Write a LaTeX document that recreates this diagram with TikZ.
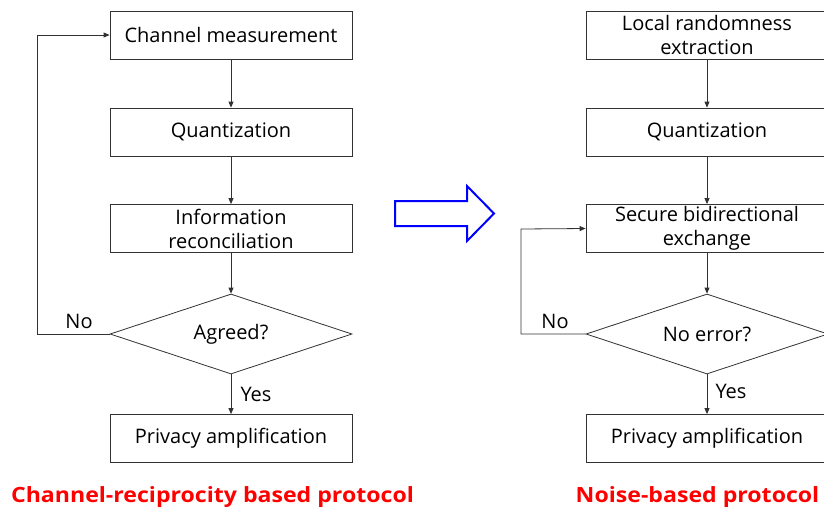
\documentclass[tikz,border=0pt]{standalone}
\usepackage{fontspec}
\setmainfont{Open Sans}
\newfontfamily\titlefont[FakeStretch=1.1]{Open Sans}
\usetikzlibrary{shapes.geometric,arrows.meta}
\definecolor{linec}{RGB}{50,50,50}
\definecolor{titlered}{RGB}{255,0,0}
\definecolor{arrowblue}{RGB}{0,0,255}
\begin{document}
\begin{tikzpicture}[x=1pt,y=-1pt,
  box/.style={draw=linec, line width=0.8pt, minimum width=242pt, minimum height=48pt,
    inner sep=0pt, align=center, font=\fontsize{20}{24}\selectfont},
  decision/.style={draw=linec, line width=0.8pt, diamond, aspect=3, minimum width=242pt,
    minimum height=80pt, inner sep=0pt, font=\fontsize{20}{24}\selectfont},
  conn/.style={draw=linec, line width=0.8pt, -{Triangle[length=6pt,width=5pt]}},
  lbl/.style={font=\fontsize{20}{24}\selectfont, inner sep=0pt},
  ttl/.style={font=\titlefont\fontsize{21}{24}\selectfont\bfseries, text=titlered, inner sep=0pt, anchor=base}]
\clip (0,0) rectangle (824,507);
\useasboundingbox (0,0) rectangle (824,507);
% left column
\node[box] (l1) at (231,35) {Channel measurement};
\node[box] (l2) at (231,132) {Quantization};
\node[box] (l3) at (231,228.5) {Information\\reconciliation};
\node[decision] (ld) at (231,334) {Agreed?};
\node[box] (l4) at (231,438.5) {Privacy amplification};
\coordinate (lc1) at (37,334);
\coordinate (lc2) at (37,35);
\draw[conn] (l1) -- (l2);
\draw[conn] (l2) -- (l3);
\draw[conn] (l3) -- (ld);
\draw[conn] (ld) -- (l4);
\draw[conn] (ld.west) -- (lc1) -- (lc2) -- (l1.west);
\node[lbl] (lno) at (79,321) {No};
\node[lbl] (lyes) at (256,394) {Yes};
\node[ttl] (lt) at (212.5,502) {Channel-reciprocity based protocol};
% right column
\node[box] (r1) at (707,35) {Local randomness\\extraction};
\node[box] (r2) at (707,132) {Quantization};
\node[box] (r3) at (707,228.5) {Secure bidirectional\\exchange};
\node[decision] (rd) at (707,334) {No error?};
\node[box] (r4) at (707,438.5) {Privacy amplification};
\coordinate (rc1) at (521,334);
\coordinate (rc2) at (521,229);
\draw[conn] (r1) -- (r2);
\draw[conn] (r2) -- (r3);
\draw[conn] (r3) -- (rd);
\draw[conn] (rd) -- (r4);
\draw[conn] (rd.west) -- (rc1) -- (rc2) -- (r3.west);
\node[lbl] (rno) at (555,321) {No};
\node[lbl] (ryes) at (731,391) {Yes};
\node[ttl] (rt) at (697.5,502) {Noise-based protocol};
% blue arrow
\draw[arrowblue, line width=2pt, line join=miter]
  (395,201) -- (467,201) -- (467,186) -- (494,213.5) -- (467,241) -- (467,226) -- (395,226) -- cycle;
\end{tikzpicture}
\end{document}
